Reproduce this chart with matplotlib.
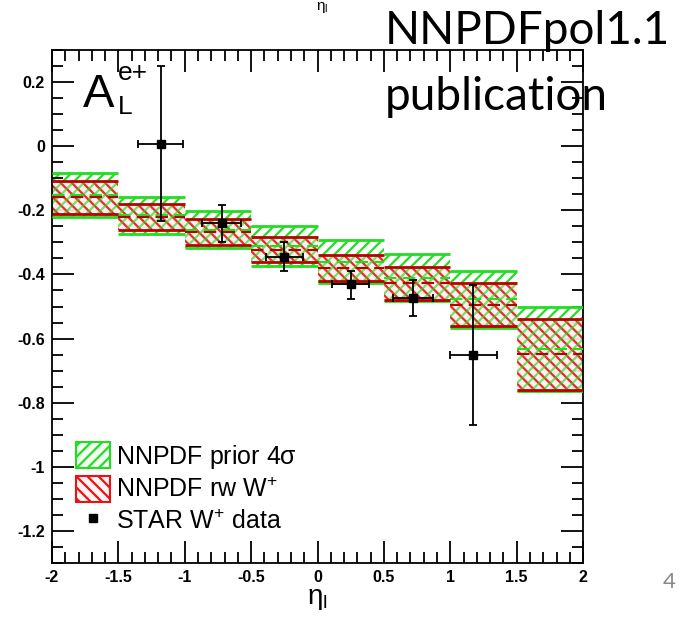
import matplotlib
matplotlib.use('Agg')
import matplotlib.pyplot as plt
from matplotlib.patches import Patch
from matplotlib.lines import Line2D
import numpy as np

plt.rcParams['font.family'] = ['Liberation Sans', 'DejaVu Sans']
plt.rcParams['mathtext.fontset'] = 'custom'
plt.rcParams['mathtext.rm'] = 'Liberation Sans'
plt.rcParams['mathtext.it'] = 'Liberation Sans'
plt.rcParams['hatch.linewidth'] = 1.6

# bins in eta
bin_edges = [-2, -1.5, -1, -0.5, 0, 0.5, 1, 1.5, 2]
# NNPDF prior 4 sigma band
prior_hi = [-0.083, -0.158, -0.203, -0.250, -0.294, -0.335, -0.388, -0.500]
prior_lo = [-0.221, -0.273, -0.318, -0.373, -0.427, -0.484, -0.567, -0.765]
# NNPDF reweighted W+ band
rw_hi = [-0.108, -0.180, -0.226, -0.283, -0.338, -0.377, -0.427, -0.538]
rw_lo = [-0.210, -0.262, -0.307, -0.362, -0.419, -0.479, -0.562, -0.760]
# STAR W+ data
star_x = [-1.18, -0.72, -0.25, 0.25, 0.72, 1.17]
star_y = [0.008, -0.240, -0.344, -0.429, -0.474, -0.651]
star_xlo = [0.17, 0.15, 0.14, 0.14, 0.15, 0.17]
star_xhi = [0.17, 0.14, 0.14, 0.14, 0.15, 0.18]
star_ylo = [0.242, 0.058, 0.044, 0.048, 0.057, 0.218]
star_yhi = [0.242, 0.057, 0.046, 0.041, 0.057, 0.219]

green = '#22dd22'
red = '#ee1111'
darkred = '#bb0000'

fig = plt.figure(figsize=(6.86, 6.23), dpi=100)
ax = fig.add_axes([0.0758, 0.0963, 0.7742, 0.8234])

left = np.array(bin_edges[:-1])
right = np.array(bin_edges[1:])
w = right - left
p_hi, p_lo = np.array(prior_hi), np.array(prior_lo)
r_hi, r_lo = np.array(rw_hi), np.array(rw_lo)

ax.bar(left, p_hi - p_lo, width=w, bottom=p_lo, align='edge',
       facecolor='none', edgecolor=green, hatch='///', linewidth=0, zorder=1)
ax.bar(left, r_hi - r_lo, width=w, bottom=r_lo, align='edge',
       facecolor='#fff0ee', edgecolor=red, hatch='\\\\\\', linewidth=0, zorder=2, alpha=0.9)
ax.bar(left, r_hi - r_lo, width=w, bottom=r_lo, align='edge',
       facecolor='none', edgecolor=green, hatch='///', linewidth=0, zorder=2.5, alpha=0.6)

ax.hlines(p_hi, left, right, colors=green, lw=2, zorder=3)
ax.hlines(p_lo, left, right, colors=green, lw=2, zorder=3)
ax.hlines(r_hi, left, right, colors=darkred, lw=2, zorder=3.5)
ax.hlines(r_lo, left, right, colors=darkred, lw=2, zorder=3.5)
ax.hlines((p_hi + p_lo) / 2, left, right, colors=green, lw=1.5, linestyles=(0, (6, 3)), zorder=3)
ax.hlines((r_hi + r_lo) / 2, left, right, colors=darkred, lw=1.5, linestyles=(0, (6, 3)), zorder=3.5)

ax.errorbar(star_x, star_y, xerr=[star_xlo, star_xhi], yerr=[star_ylo, star_yhi],
            fmt='s', color='black', ms=6, elinewidth=1.3, capsize=3, capthick=1.3, zorder=5)

ax.set_xlim(-2, 2)
ax.set_ylim(-1.3, 0.3)
ax.set_xticks([-2, -1.5, -1, -0.5, 0, 0.5, 1, 1.5, 2])
ax.set_xticklabels(['-2', '-1.5', '-1', '-0.5', '0', '0.5', '1', '1.5', '2'])
ax.set_xticks(np.arange(-2, 2.01, 0.1), minor=True)
ax.set_yticks([-1.2, -1, -0.8, -0.6, -0.4, -0.2, 0, 0.2])
ax.set_yticklabels(['-1.2', '-1', '-0.8', '-0.6', '-0.4', '-0.2', '0', '0.2'])
ax.set_yticks(np.arange(-1.3, 0.301, 0.05), minor=True)
ax.tick_params(which='both', direction='in', top=True, right=True, width=1.3)
ax.tick_params(which='major', length=16, labelsize=11.5, pad=5)
ax.tick_params(which='minor', length=8)
for lab in ax.get_xticklabels() + ax.get_yticklabels():
    lab.set_fontweight('bold')
for s in ax.spines.values():
    s.set_linewidth(1.3)

ax.text(0.058, 0.912, 'A', transform=ax.transAxes, fontsize=34, va='center', ha='left')
ax.text(0.124, 0.888, 'L', transform=ax.transAxes, fontsize=19, va='center', ha='left')
ax.text(0.124, 0.955, 'e+', transform=ax.transAxes, fontsize=19, va='center', ha='left')

handles = [Patch(facecolor='#f4fff4', edgecolor=green, hatch='///', lw=1.5),
           Patch(facecolor='#fff4f4', edgecolor=red, hatch='\\\\\\', lw=1.5),
           Line2D([], [], marker='s', color='black', ls='none', ms=6)]
labels = [r'NNPDF prior 4$\mathregular{\sigma}$', r'NNPDF rw W$\mathregular{^{+}}$',
          r'STAR W$\mathregular{^{+}}$ data']
ax.legend(handles, labels, loc='lower left', bbox_to_anchor=(0.027, 0.037), frameon=False,
          fontsize=18, handlelength=1.35, handleheight=1.2, handletextpad=0.25,
          labelspacing=0.22, borderaxespad=0)

ax.set_xlabel(r'$\eta_{\mathregular{l}}$', fontsize=20, labelpad=1)
fig.text(0.47, 1.0, r'$\eta_{\mathregular{l}}$', fontsize=11, ha='center', va='top')

fig.text(0.561, 0.93, 'NNPDFpol1.1', fontsize=33, ha='left', va='baseline',
         family=['Lato', 'DejaVu Sans'], zorder=10)
fig.text(0.561, 0.823, 'publication', fontsize=33, ha='left', va='baseline',
         family=['Lato', 'DejaVu Sans'], zorder=10)
fig.text(0.985, 0.05, '4', fontsize=16, color='#888888', ha='right', va='bottom',
         family=['Lato', 'DejaVu Sans'])

fig.savefig('out.png', dpi=100)
